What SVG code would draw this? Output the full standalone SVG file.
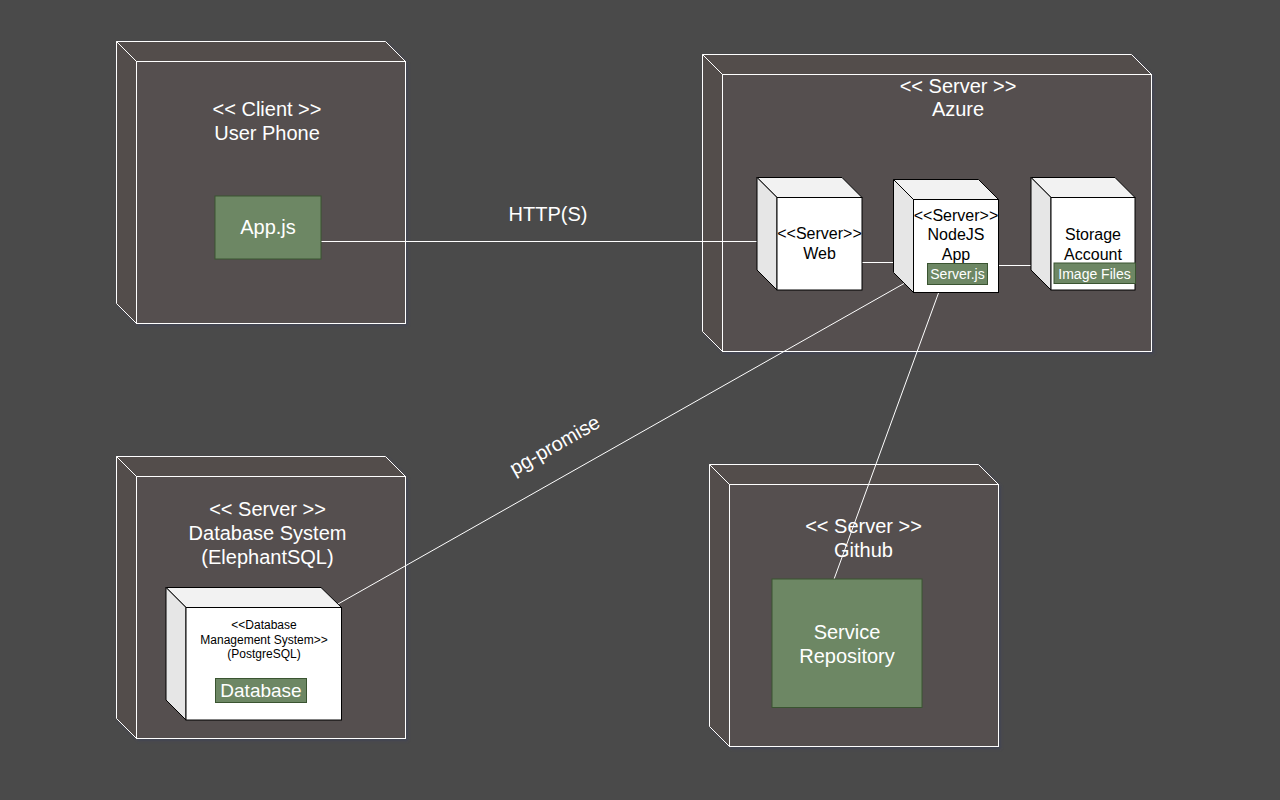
<svg xmlns="http://www.w3.org/2000/svg" width="1280" height="800" viewBox="0 0 1280 800">
<defs>
<style>
.bg{fill:#4a4a4a}
.dk{fill:#55504f;stroke:#ffffff;stroke-width:1}
.dks{fill:#524d4c;stroke:#ffffff;stroke-width:1}
.wf{fill:#ffffff;stroke:#000000;stroke-width:1}
.ws{fill:#e6e6e6;stroke:#000000;stroke-width:1}
.wt{fill:#f2f2f2;stroke:#000000;stroke-width:1}
.gr{fill:#6d8764;stroke:#3a5431;stroke-width:1}
.lt{font-family:"Liberation Sans",Arial,sans-serif;fill:#ffffff;text-anchor:middle}
.bt{font-family:"Liberation Sans",Arial,sans-serif;fill:#000000;text-anchor:middle}
.cn{stroke:#ffffff;stroke-width:1;fill:none}
</style>
<filter id="sh" x="-5%" y="-5%" width="115%" height="115%">
<feDropShadow dx="2" dy="2" stdDeviation="1.5" flood-color="#3a3f5a" flood-opacity="0.6"/>
</filter>
</defs>
<rect class="bg" x="0" y="0" width="1280" height="800"/>

<g id="client">
<g filter="url(#sh)">
<path class="dks" d="M116.5,41.5 L385.5,41.5 L405.5,61.5 L136.5,61.5 Z"/>
<path class="dks" d="M116.5,41.5 L136.5,61.5 L136.5,323.5 L116.5,303.5 Z"/>
<rect class="dk" x="136.5" y="61.5" width="269" height="262"/>
</g>
<text class="lt" x="267" y="115.5" font-size="20">&lt;&lt; Client &gt;&gt;</text>
<text class="lt" x="267" y="139.5" font-size="20">User Phone</text>
</g>

<g id="azure">
<g filter="url(#sh)">
<path class="dks" d="M702.5,54.5 L1131.5,54.5 L1151.5,74.5 L722.5,74.5 Z"/>
<path class="dks" d="M702.5,54.5 L722.5,74.5 L722.5,351.5 L702.5,331.5 Z"/>
<rect class="dk" x="722.5" y="74.5" width="429" height="277"/>
</g>
<text class="lt" x="958" y="92.5" font-size="20">&lt;&lt; Server &gt;&gt;</text>
<text class="lt" x="958" y="116" font-size="20">Azure</text>
</g>

<g id="database-system">
<g filter="url(#sh)">
<path class="dks" d="M116.5,456.5 L385.5,456.5 L405.5,476.5 L136.5,476.5 Z"/>
<path class="dks" d="M116.5,456.5 L136.5,476.5 L136.5,738.5 L116.5,718.5 Z"/>
<rect class="dk" x="136.5" y="476.5" width="269" height="262"/>
</g>
<text class="lt" x="267.5" y="515.5" font-size="20">&lt;&lt; Server &gt;&gt;</text>
<text class="lt" x="267.5" y="539.5" font-size="20">Database System</text>
<text class="lt" x="267.5" y="563.5" font-size="20">(ElephantSQL)</text>
</g>

<g id="github">
<g filter="url(#sh)">
<path class="dks" d="M709.5,464.5 L978.5,464.5 L998.5,484.5 L729.5,484.5 Z"/>
<path class="dks" d="M709.5,464.5 L729.5,484.5 L729.5,746.5 L709.5,726.5 Z"/>
<rect class="dk" x="729.5" y="484.5" width="269" height="262"/>
</g>
<text class="lt" x="863.5" y="533" font-size="20">&lt;&lt; Server &gt;&gt;</text>
<text class="lt" x="863.5" y="557" font-size="20">Github</text>
</g>

<g id="connectors">
<line class="cn" x1="321" y1="241.5" x2="763" y2="241.5"/>
<line class="cn" x1="862" y1="262.5" x2="902" y2="262.5"/>
<line class="cn" x1="998" y1="265.5" x2="1054" y2="265.5"/>
<line class="cn" x1="904" y1="283.5" x2="338" y2="604"/>
<line class="cn" x1="938.5" y1="293" x2="833" y2="582"/>
<text class="lt" x="548" y="221" font-size="20">HTTP(S)</text>
<text class="lt" x="0" y="0" font-size="20" transform="translate(558,451) rotate(-29.6)">pg-promise</text>
</g>

<g id="app-js">
<rect class="gr" x="215" y="196" width="106" height="63"/>
<text class="lt" x="268" y="234" font-size="20">App.js</text>
</g>

<g id="web">
<path class="wt" d="M757,177.5 L842,177.5 L862,197.5 L777,197.5 Z"/>
<path class="ws" d="M757,177.5 L777,197.5 L777,290 L757,270 Z"/>
<rect class="wf" x="777" y="197.5" width="85" height="92.5"/>
<text class="bt" x="819.5" y="239" font-size="16">&lt;&lt;Server&gt;&gt;</text>
<text class="bt" x="819.5" y="259" font-size="16">Web</text>
</g>

<g id="nodejs-app">
<path class="wt" d="M893.5,179.5 L978.5,179.5 L998.5,199.5 L913.5,199.5 Z"/>
<path class="ws" d="M893.5,179.5 L913.5,199.5 L913.5,292.5 L893.5,272.5 Z"/>
<rect class="wf" x="913.5" y="199.5" width="85" height="93"/>
<text class="bt" x="956" y="220.5" font-size="16">&lt;&lt;Server&gt;&gt;</text>
<text class="bt" x="956" y="240" font-size="16">NodeJS</text>
<text class="bt" x="956" y="260" font-size="16">App</text>
<rect class="gr" x="927.5" y="263.5" width="60" height="21"/>
<text class="lt" x="957.5" y="279" font-size="14">Server.js</text>
</g>

<g id="storage-account">
<path class="wt" d="M1031,177.5 L1115,177.5 L1135,197.5 L1051,197.5 Z"/>
<path class="ws" d="M1031,177.5 L1051,197.5 L1051,290 L1031,270 Z"/>
<rect class="wf" x="1051" y="197.5" width="84" height="92.5"/>
<text class="bt" x="1093" y="240" font-size="16">Storage</text>
<text class="bt" x="1093" y="259.5" font-size="16">Account</text>
<rect class="gr" x="1054" y="263" width="81.5" height="20.5"/>
<text class="lt" x="1094.5" y="278.5" font-size="14">Image Files</text>
</g>

<g id="dbms">
<path class="wt" d="M166,587.5 L321,587.5 L341.5,607.5 L186,607.5 Z"/>
<path class="ws" d="M166,587.5 L186,607.5 L186,720 L166,700 Z"/>
<rect class="wf" x="186" y="607.5" width="155.5" height="112.5"/>
<text class="bt" x="264" y="629" font-size="12">&lt;&lt;Database</text>
<text class="bt" x="264" y="643.5" font-size="12">Management System&gt;&gt;</text>
<text class="bt" x="264" y="657.5" font-size="12">(PostgreSQL)</text>
<rect class="gr" x="215.5" y="678.5" width="91" height="24"/>
<text class="lt" x="261" y="697" font-size="19">Database</text>
</g>

<g id="service-repository">
<rect class="gr" x="772" y="579" width="150" height="128.5"/>
<text class="lt" x="847" y="638.5" font-size="20">Service</text>
<text class="lt" x="847" y="662.5" font-size="20">Repository</text>
</g>
</svg>
